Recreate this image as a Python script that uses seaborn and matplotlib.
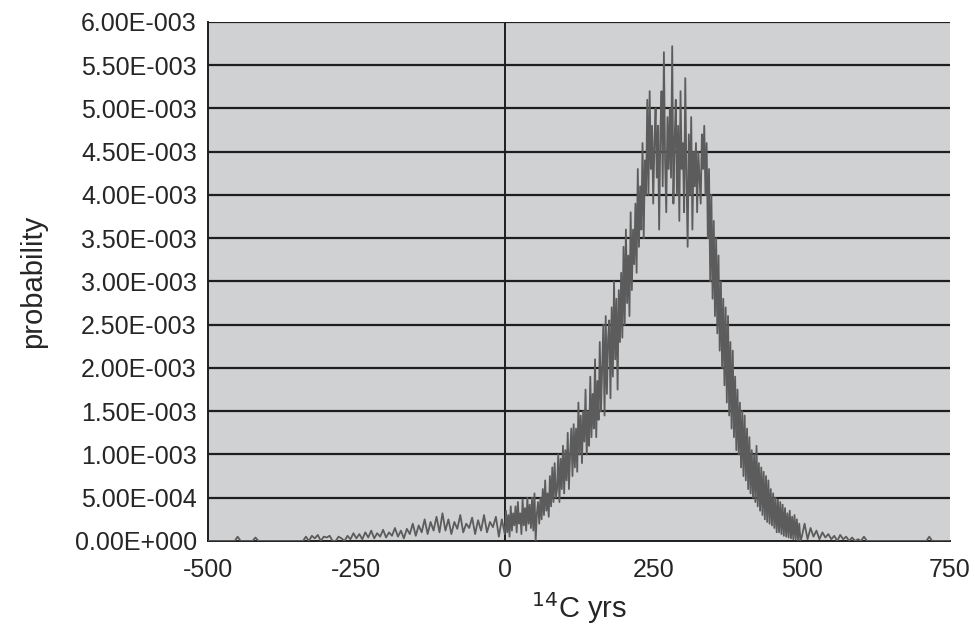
import numpy as np
import pandas as pd
import seaborn as sns
import matplotlib.pyplot as plt
from matplotlib.ticker import FuncFormatter

# years: 5 yr step in the tails, 2 yr step in the core
yrs_left = list(range(-500, 0, 5))
yrs_core = list(range(0, 500, 2))
yrs_right = list(range(500, 755, 5))

# probability values, in units of 1e-3
p_left = [0, 0, 0, 0, 0, 0, 0, 0, 0, 0,
          0.05, 0, 0, 0, 0, 0, 0.04, 0, 0, 0,
          0, 0, 0, 0, 0, 0, 0, 0, 0, 0,
          0, 0, 0, 0.05, 0, 0.06, 0.03, 0.07, 0, 0.05,
          0.04, 0.06, 0, 0, 0.05, 0.03, 0, 0.06, 0.02, 0.09,
          0.03, 0.08, 0.02, 0.10, 0.04, 0.12, 0.03, 0.09, 0.05, 0.13,
          0.04, 0.10, 0.06, 0.15, 0.05, 0.12, 0.03, 0.14, 0.08, 0.20,
          0.06, 0.18, 0.10, 0.25, 0.08, 0.22, 0.12, 0.28, 0.10, 0.32,
          0.12, 0.25, 0.08, 0.22, 0.14, 0.30, 0.10, 0.20, 0.15, 0.27,
          0.08, 0.24, 0.12, 0.30, 0.10, 0.22, 0.16, 0.28, 0.05, 0.25]

p_core = [0.08, 0.35, 0.10, 0.30, 0.05, 0.40, 0.12, 0.32, 0.18, 0.40,
          0.10, 0.45, 0.20, 0.32, 0.08, 0.48, 0.18, 0.38, 0.12, 0.50,
          0.20, 0.42, 0.15, 0.50, 0.12, 0.55, 0.00, 0.32, 0.45, 0.20,
          0.50, 0.25, 0.60, 0.30, 0.70, 0.35, 0.55, 0.28, 0.75, 0.40,
          0.85, 0.45, 0.90, 0.50, 0.60, 1.00, 0.45, 0.95, 0.60, 1.10,
          0.55, 1.05, 0.70, 1.25, 0.60, 1.00, 1.30, 0.75, 1.35, 0.85,
          1.30, 0.80, 1.60, 1.00, 1.45, 0.90, 1.50, 1.15, 1.75, 1.00,
          1.50, 1.10, 1.90, 1.20, 1.70, 1.30, 2.10, 1.20, 1.85, 1.40,
          2.30, 1.50, 2.00, 2.50, 1.45, 2.60, 1.70, 2.35, 2.55, 1.65,
          2.70, 1.90, 3.00, 2.10, 2.80, 1.75, 2.90, 2.30, 3.10, 2.35,
          3.40, 2.50, 3.60, 2.75, 3.30, 2.60, 3.80, 2.90, 3.60, 3.20,
          3.90, 3.10, 4.30, 3.40, 4.10, 3.60, 4.60, 3.50, 4.40, 4.00,
          5.10, 4.00, 5.20, 4.30, 4.80, 3.90, 4.60, 5.00, 4.20, 4.80,
          3.60, 4.70, 5.20, 4.10, 5.65, 4.40, 3.80, 4.90, 4.30, 5.00,
          4.20, 5.72, 3.90, 4.60, 5.10, 4.00, 4.80, 3.70, 5.20, 4.30,
          4.60, 3.80, 5.35, 4.20, 3.40, 4.70, 4.00, 4.90, 3.60, 4.50,
          4.10, 4.60, 3.80, 4.50, 4.20, 3.90, 4.70, 4.30, 4.80, 4.00,
          4.60, 3.50, 4.30, 3.00, 4.00, 2.80, 3.70, 2.60, 3.50, 2.40,
          3.30, 2.20, 3.00, 2.00, 2.80, 1.80, 2.70, 1.60, 2.60, 1.45,
          2.30, 1.30, 2.20, 1.20, 1.90, 1.05, 1.75, 1.00, 1.60, 0.85,
          1.50, 0.75, 1.45, 0.70, 1.30, 0.60, 1.20, 0.55, 1.05, 0.50,
          1.00, 0.45, 1.10, 0.40, 0.90, 0.35, 0.85, 0.30, 0.80, 0.25,
          0.75, 0.22, 0.70, 0.20, 0.60, 0.18, 0.55, 0.15, 0.50, 0.10,
          0.48, 0.10, 0.45, 0.08, 0.42, 0.06, 0.38, 0.05, 0.32, 0.04,
          0.35, 0.03, 0.28, 0.02, 0.30, 0.02, 0.25, 0.01, 0.20, 0.01]

p_right = [0.04, 0.20, 0.02, 0.15, 0.05, 0.12, 0.02, 0.10, 0.04, 0.08,
           0.02, 0.06, 0, 0.07, 0.02, 0.05, 0, 0.04, 0, 0.02,
           0, 0.05, 0, 0, 0, 0, 0, 0, 0, 0,
           0, 0, 0, 0, 0, 0, 0, 0, 0, 0,
           0, 0, 0, 0.05, 0, 0, 0, 0, 0, 0,
           0]

df = pd.DataFrame({'yrs': yrs_left + yrs_core + yrs_right,
                   'probability': np.array(p_left + p_core + p_right) * 1e-3})

sns.set_style('white')
plt.rcParams['font.family'] = ['Liberation Sans', 'DejaVu Sans']
plt.rcParams['axes.unicode_minus'] = False

fig = plt.figure(figsize=(9.75, 6.27), dpi=100)
ax = fig.add_axes([0.2133, 0.1372, 0.7611, 0.8278])
ax.set_facecolor('#d0d1d3')

# horizontal gridlines like excel
for yv in np.arange(0.5e-3, 6.01e-3, 0.5e-3):
    ax.axhline(yv, color='#1e1e1e', lw=1.6, zorder=1)
ax.axvline(0, color='#1e1e1e', lw=1.4, zorder=1)

sns.lineplot(data=df, x='yrs', y='probability', ax=ax, color='#5c5c5c',
             lw=1.3, zorder=3)

ax.set_xlim(-500, 750)
ax.set_ylim(0, 6e-3)
ax.set_xticks([-500, -250, 0, 250, 500, 750])
ax.set_yticks(np.arange(0, 6.01e-3, 0.5e-3))

def sci(v, pos):
    s = '%.2E' % v
    mant, ex = s.split('E')
    return '%sE%s%03d' % (mant, ex[0], abs(int(ex)))

ax.yaxis.set_major_formatter(FuncFormatter(sci))
ax.tick_params(axis='both', labelsize=18, length=6, width=1.3, color='#1e1e1e',
               direction='out', pad=2)
ax.tick_params(axis='x', pad=6)

for s in ['top', 'right']:
    ax.spines[s].set_visible(False)
for s in ['left', 'bottom']:
    ax.spines[s].set_color('#1e1e1e')
    ax.spines[s].set_linewidth(1.4)

ax.set_ylabel('probability', fontsize=21, labelpad=20)
ax.set_xlabel('$^{14}$C yrs', fontsize=21, labelpad=6)

fig.savefig('out.png', dpi=100)
